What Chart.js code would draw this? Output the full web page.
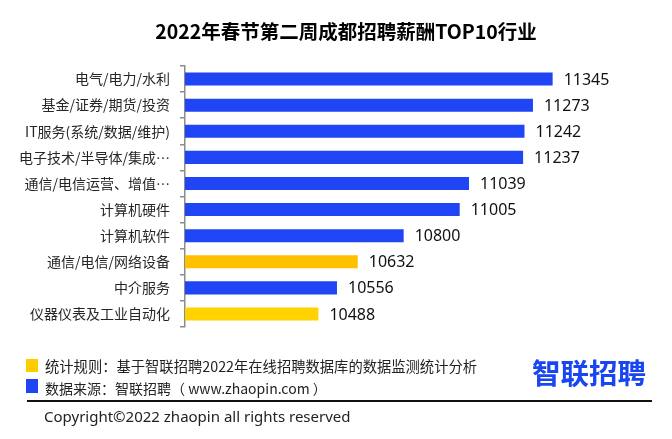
<!DOCTYPE html>
<html>
<head>
<meta charset="utf-8">
<script src="https://cdn.jsdelivr.net/npm/chart.js@4"></script>
<style>
  body { margin: 0; background: #fff; }
  #wrap { position: relative; width: 672px; height: 439px; background: #fff; overflow: hidden;
          font-family: "Noto Sans CJK SC", "Noto Sans", sans-serif; color: #222; }
  #myChart { position: absolute; left: 0; top: 0; }
  .txt { position: absolute; white-space: nowrap; line-height: 20px; }
  .sq { position: absolute; width: 12px; height: 13px; }
</style>
</head>
<body>
<div id="wrap">
  <canvas id="myChart" width="672" height="439"></canvas>
  <div class="txt" id="title" style="left:0;width:692px;text-align:center;top:20px;line-height:22px;font-size:19.5px;font-weight:bold;color:#000;">2022年春节第二周成都招聘薪酬TOP10行业</div>

  <div class="sq" style="left:26px;top:359px;background:#ffcc00;"></div>
  <div class="txt" style="left:45px;top:356px;font-size:14.3px;">统计规则：基于智联招聘2022年在线招聘数据库的数据监测统计分析</div>
  <div class="sq" style="left:26px;top:379px;height:14px;background:#1f45f5;"></div>
  <div class="txt" style="left:45px;top:378px;font-size:14px;">数据来源：智联招聘（ www.zhaopin.com ）</div>

  <div class="txt" style="left:532px;top:355px;line-height:34px;font-size:28.5px;font-weight:bold;color:#1a46f2;">智联招聘</div>

  <div style="position:absolute;left:27px;top:400px;width:625px;height:2px;background:#111;"></div>
  <div class="txt" style="left:44px;top:406px;font-family:'Noto Sans',sans-serif;font-size:15px;">Copyright©2022 zhaopin all rights reserved</div>
</div>

<script>
// 行业 / 薪酬 (元)
var industries = ['电气/电力/水利', '基金/证券/期货/投资', 'IT服务(系统/数据/维护)', '电子技术/半导体/集成…',
    '通信/电信运营、增值…', '计算机硬件', '计算机软件', '通信/电信/网络设备', '中介服务', '仪器仪表及工业自动化'];
var salaries = [11345, 11273, 11242, 11237, 11039, 11005, 10800, 10632, 10556, 10488];
var barColors = ['#1f45f5', '#1f45f5', '#1f45f5', '#1f45f5', '#1f45f5', '#1f45f5', '#1f45f5', '#ffc000', '#1f45f5', '#ffd200'];

// values at the end of every bar
var valueLabels = {
    id: 'valueLabels',
    afterDatasetsDraw: function (chart) {
        var c = chart.ctx;
        var meta = chart.getDatasetMeta(0);
        c.save();
        c.font = '16px "Noto Sans", sans-serif';
        c.fillStyle = '#111';
        c.textAlign = 'left';
        c.textBaseline = 'middle';
        meta.data.forEach(function (bar, i) {
            c.fillText(salaries[i], bar.x + 11, bar.y + 1);
        });
        c.restore();
    }
};

var ctx = document.getElementById('myChart').getContext('2d');
var chart = new Chart(ctx, {
    type: 'bar',
    data: {
        labels: industries,
        datasets: [{
            data: salaries,
            backgroundColor: barColors,
            borderWidth: 0,
            barPercentage: 0.5,
            categoryPercentage: 1.0
        }]
    },
    options: {
        indexAxis: 'y',
        responsive: false,
        animation: false,
        layout: { padding: { top: 66, bottom: 112, left: 0, right: 77 } },
        plugins: {
            legend: { display: false },
            tooltip: { enabled: false }
        },
        scales: {
            x: { display: false, min: 10000, max: 11500 },
            y: {
                afterFit: function (scale) { scale.width = 185; },
                border: { display: true, color: '#8c8c8c', width: 1.5 },
                grid: { display: true, drawOnChartArea: false, tickLength: 5, color: '#8c8c8c', lineWidth: 1.5 },
                ticks: {
                    padding: 10,
                    color: '#262626',
                    font: { family: '"Noto Sans CJK SC", "Noto Sans", sans-serif', size: 14 }
                }
            }
        }
    },
    plugins: [valueLabels]
});
</script>
</body>
</html>
